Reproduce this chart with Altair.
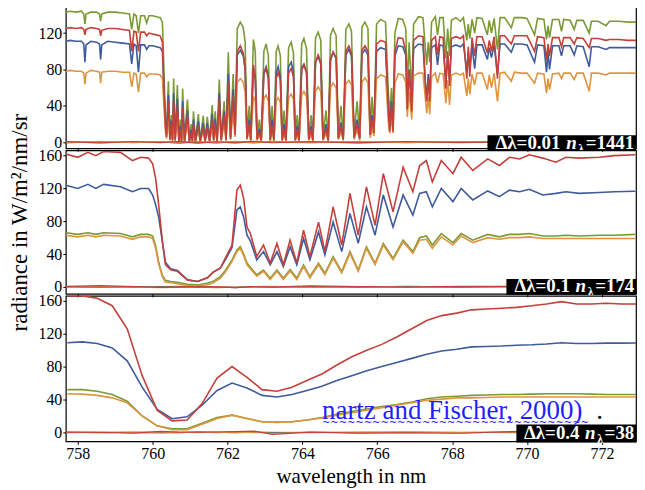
import altair as alt
import pandas as pd

# ---------------- panel 1 : d_lambda = 0.01 ----------------
lam1 = [757.68, 757.80, 757.95, 758.10, 758.16, 758.19, 758.22, 758.35, 758.50, 758.58,
        758.61, 758.64, 758.80, 759.00, 759.20, 759.38, 759.44, 759.50, 759.56, 759.62,
        759.68, 759.78, 759.84, 759.90, 760.00, 760.10, 760.20, 760.26,
        760.30, 760.34, 760.37, 760.42, 760.46, 760.50, 760.53, 760.56, 760.60, 760.66,
        760.70, 760.74, 760.77, 760.80, 760.85, 760.93, 760.98, 761.03, 761.06, 761.09,
        761.14, 761.22, 761.27, 761.35, 761.40, 761.46, 761.52, 761.59, 761.63, 761.67,
        761.72, 761.78, 761.83, 761.91, 761.96, 762.02, 762.08, 762.15, 762.20,
        762.26, 762.34, 762.42, 762.47, 762.52, 762.58, 762.62, 762.69, 762.74, 762.79,
        762.85, 762.90, 762.97, 763.03, 763.09, 763.14, 763.19, 763.24, 763.30, 763.35,
        763.41, 763.46, 763.51, 763.56, 763.63, 763.70, 763.76, 763.81, 763.86, 763.91,
        763.98, 764.04, 764.11, 764.17, 764.23, 764.28, 764.35, 764.42, 764.49, 764.55,
        764.63, 764.69, 764.75, 764.82, 764.90, 764.96, 765.03, 765.09, 765.16, 765.24,
        765.31, 765.38, 765.46, 765.53, 765.59, 765.67, 765.75, 765.81, 765.86, 765.91,
        765.98, 766.09, 766.22,
        766.30, 766.33, 766.38, 766.42, 766.47, 766.56, 766.68, 766.76, 766.80, 766.85,
        766.92, 766.97, 767.10, 767.22, 767.29, 767.32, 767.36, 767.40, 767.45, 767.55,
        767.61, 767.67, 767.76, 767.83, 767.88, 767.93, 767.98, 768.10, 768.22, 768.30,
        768.39, 768.43, 768.47, 768.53, 768.60, 768.66, 768.80, 768.94, 768.99, 769.05,
        769.12, 769.21, 769.28, 769.40, 769.58, 769.66, 769.85, 770.00, 770.20, 770.28,
        770.45, 770.52, 770.56, 770.60, 770.68, 770.85, 770.92, 770.98, 771.15, 771.26,
        771.33, 771.50, 771.66, 771.72, 771.90, 772.11, 772.20, 772.45, 772.70, 772.91]

green1 = [143, 144, 143, 144, 141, 130, 141, 143, 143, 141, 133, 141, 143, 143, 142, 141, 124, 141, 139, 120,
          139, 139, 131, 139, 139, 138, 137, 132,
          80, 25, 10, 67, 6, 30, 4, 70, 5, 63, 3, 25, 3, 59, 3, 47, 2, 20, 3, 34,
          2, 31, 2, 29, 3, 28, 3, 41, 5, 34, 3, 69, 4, 45, 5, 99, 8, 75, 15,
          125, 132, 126, 110, 8, 40, 5, 113, 100, 6, 25, 4, 100, 108, 95, 5, 40, 4, 100, 106,
          95, 5, 35, 4, 104, 110, 98, 5, 30, 4, 108, 114, 103, 6, 30, 5, 115, 121, 112, 6,
          35, 5, 118, 125, 117, 7, 40, 6, 124, 130, 122, 8, 45, 7, 127, 132, 125, 10, 50, 15,
          130, 135, 132,
          50, 30, 60, 25, 120, 136, 135, 125, 60, 110, 55, 130, 138, 137, 100, 85, 110, 88, 132, 138,
          118, 137, 137, 92, 125, 95, 134, 137, 133, 137, 112, 130, 114, 135, 120, 137, 136, 118, 134, 120,
          136, 102, 137, 137, 126, 137, 137, 136, 118, 136, 135, 113, 128, 115, 135, 135, 122, 135, 134, 124,
          134, 134, 120, 133, 133, 128, 133, 133, 132, 132]

red1 = [125, 126, 125, 126, 124, 118, 124, 126, 125, 124, 117, 123, 125, 125, 124, 123, 100, 122, 121, 100,
        121, 121, 117, 120, 119, 118, 117, 110,
        60, 18, 6, 46, 3, 20, 2, 45, 2, 40, 1, 14, 1, 38, 1, 30, 1, 10, 1, 20,
        1, 18, 1, 17, 1, 17, 1, 26, 2, 21, 1, 48, 2, 30, 2, 67, 4, 52, 8,
        100, 106, 98, 80, 4, 20, 2, 85, 70, 3, 12, 2, 75, 81, 70, 2, 18, 2, 70, 77,
        68, 2, 15, 2, 76, 81, 72, 2, 14, 2, 80, 85, 76, 3, 14, 2, 88, 96, 88, 3,
        15, 2, 92, 99, 93, 4, 18, 3, 100, 106, 98, 5, 20, 4, 101, 106, 100, 8, 25, 10,
        108, 112, 110,
        30, 12, 40, 12, 100, 115, 114, 100, 36, 80, 34, 112, 117, 116, 60, 45, 70, 45, 112, 116,
        96, 116, 115, 59, 100, 62, 114, 116, 114, 117, 70, 105, 72, 115, 95, 116, 116, 98, 112, 100,
        116, 70, 117, 117, 108, 117, 117, 117, 100, 116, 115, 90, 108, 95, 115, 115, 105, 115, 115, 108,
        115, 114, 104, 114, 114, 112, 113, 113, 112, 112]

blue1 = [111, 112, 111, 111, 108, 88, 107, 111, 110, 108, 91, 107, 111, 110, 109, 108, 86, 108, 106, 77,
         107, 107, 102, 106, 106, 105, 104, 100,
         60, 22, 8, 52, 4, 24, 3, 54, 3, 48, 2, 18, 2, 45, 2, 35, 1, 14, 2, 25,
         1, 23, 1, 21, 2, 21, 2, 31, 3, 26, 2, 54, 3, 34, 3, 75, 6, 58, 10,
         96, 101, 95, 80, 5, 25, 3, 81, 70, 4, 15, 3, 76, 83, 72, 3, 25, 3, 76, 83,
         72, 3, 20, 3, 83, 88, 78, 3, 18, 3, 82, 86, 77, 4, 18, 3, 88, 94, 86, 4,
         20, 3, 90, 99, 92, 5, 22, 4, 96, 102, 95, 6, 25, 5, 97, 102, 96, 8, 30, 10,
         100, 104, 102,
         35, 18, 45, 15, 95, 106, 105, 96, 40, 80, 38, 103, 108, 107, 60, 50, 75, 50, 104, 107,
         85, 107, 106, 66, 95, 68, 105, 107, 105, 108, 78, 100, 80, 106, 81, 107, 107, 91, 104, 93,
         107, 75, 108, 108, 99, 108, 108, 107, 88, 107, 106, 77, 100, 80, 106, 106, 95, 106, 106, 96,
         106, 105, 83, 105, 105, 102, 104, 104, 104, 104]

orange1 = [78, 79, 78, 78, 76, 64, 76, 79, 78, 77, 65, 77, 78, 78, 77, 77, 61, 76, 75, 55,
           76, 76, 72, 75, 75, 75, 74, 70,
           40, 12, 4, 32, 2, 14, 1, 33, 2, 28, 1, 10, 1, 26, 1, 20, 1, 8, 1, 14,
           1, 13, 1, 12, 1, 12, 1, 18, 2, 15, 1, 32, 2, 20, 2, 45, 3, 35, 6,
           66, 70, 66, 55, 3, 15, 2, 51, 45, 2, 8, 1, 48, 52, 45, 2, 12, 1, 45, 49,
           44, 2, 10, 1, 49, 53, 47, 2, 9, 1, 52, 56, 50, 2, 9, 1, 56, 61, 56, 2,
           10, 1, 60, 65, 60, 3, 12, 2, 64, 68, 63, 3, 14, 2, 66, 71, 65, 5, 15, 7,
           70, 74, 72,
           20, 10, 28, 10, 65, 75, 74, 66, 28, 55, 25, 73, 76, 76, 45, 32, 50, 31, 72, 76,
           65, 76, 75, 43, 68, 41, 74, 76, 74, 76, 51, 70, 53, 75, 63, 76, 76, 58, 74, 60,
           76, 45, 76, 77, 67, 77, 76, 76, 65, 76, 75, 54, 70, 58, 75, 76, 70, 76, 76, 69,
           76, 76, 56, 76, 76, 74, 76, 76, 76, 76]

# ---------------- panel 2 : d_lambda = 0.1 ----------------
lam2 = [757.68, 758.00, 758.27, 758.48, 758.69, 759.14, 759.46, 759.68, 759.89, 760.00,
        760.08, 760.16, 760.26, 760.34, 760.48, 760.66, 760.93, 761.20, 761.46, 761.62,
        761.81, 761.94, 762.12, 762.25, 762.34, 762.43, 762.52, 762.61, 762.78, 762.96,
        763.14, 763.32, 763.49, 763.67, 763.85, 764.03, 764.20, 764.43, 764.60, 764.82,
        765.05, 765.27, 765.49, 765.71, 765.94, 766.16, 766.42, 766.69, 766.95, 767.13,
        767.31, 767.47, 767.71, 768.02, 768.24, 768.55, 768.95, 769.26, 769.53, 769.80,
        770.06, 770.42, 770.77, 771.04, 771.39, 771.93, 772.33, 772.89]
red2 = [162, 158, 164, 160, 165, 164, 154, 158, 157, 150,
        132, 100, 55, 27, 21, 19, 8.5, 6.5, 11, 18,
        23, 35, 51, 118, 124, 108, 73, 65, 37, 51,
        29, 53, 27, 57, 29, 69, 37, 79, 43, 97.6,
        51, 114, 63, 122, 75, 138, 91.5, 146, 116, 148,
        154, 128, 154, 138, 158, 142, 156, 148, 158, 156,
        161, 157, 152, 158, 157, 158, 160, 161]
blue2 = [124, 120, 125, 120, 125, 122, 116, 120, 120, 112,
         100, 85, 55, 30, 22, 20, 8.5, 6.5, 11, 18,
         23, 33, 48, 94, 97.6, 85, 63, 56, 33, 43,
         27, 43, 24.7, 49, 27, 59, 33, 67, 39, 79,
         43, 89.5, 53, 97.6, 63, 112, 73, 112, 87.5, 114,
         116, 97.6, 120, 104, 120, 106, 117, 110, 118, 116,
         119, 112, 114, 116, 114, 115, 116, 116.6]
green2 = [66, 64, 66, 64, 66, 65, 61, 64, 64, 62,
          50, 30, 14, 8, 6.5, 5.5, 3.2, 2.4, 4.5, 7,
          12.6, 20, 33, 45, 49, 40, 29, 24, 14.6, 20.6,
          10.6, 20.6, 10.6, 21, 10.6, 26.7, 12.6, 28.8, 16.6, 36.8,
          18.6, 43, 20.6, 49, 28.8, 53, 34.8, 57, 43, 60,
          62, 51, 65, 54, 65, 57, 64, 61, 64, 64,
          65, 62, 62, 63, 62, 63, 63, 64]
orange2 = [63, 61, 63, 61, 63, 62, 58, 61, 61, 59,
           47, 28, 12, 6, 5, 4, 1.5, 1, 2.5, 5,
           10.5, 18, 31, 43, 47, 38, 27, 22, 13, 19,
           9, 19, 9, 19.5, 9, 25, 11, 27, 15, 35,
           17, 41, 19, 47, 27, 51, 33, 55, 41, 57,
           58, 47, 61, 51, 62, 54, 60, 58, 60, 60,
           61, 59, 59, 59, 59, 59, 59, 59]

# ---------------- panel 3 : d_lambda = 0.4 ----------------
lam3 = [757.72, 758.12, 758.52, 758.92, 759.32, 759.72, 760.12, 760.52, 760.92, 761.32,
        761.72, 762.12, 762.52, 762.92, 763.32, 763.72, 764.12, 764.52, 764.92, 765.32,
        765.72, 766.12, 766.52, 766.92, 767.32, 767.72, 768.12, 768.52, 768.92, 769.32,
        769.72, 770.12, 770.52, 770.92, 771.32, 771.72, 772.12, 772.52, 772.92]
red3 = [166, 166, 163, 154, 126, 69, 27, 14, 15, 35, 66, 80, 67, 52, 50, 55, 63, 71, 82, 92,
        100, 107, 116, 126, 136, 142, 145, 149, 150, 151, 152, 154, 156, 159, 156, 156, 157, 156, 156]
blue3 = [109, 110, 108, 102.6, 87, 55, 28, 16.6, 19, 33, 51, 60, 54, 45, 43, 46, 51, 56, 63, 69,
         75, 80, 85, 90, 95, 99, 101, 104, 104.5, 105, 106, 106.5, 107.5, 109, 108, 108, 108.5, 108.5, 108.7]
green3 = [52, 52, 50, 46, 38, 20, 8, 4.4, 4.4, 11, 18, 21, 17, 13, 12.5, 13, 15, 18, 22, 25.5,
          28.5, 31.5, 34, 37, 41, 43, 44, 45, 45.5, 46, 46, 46.5, 47, 47, 47, 46.5, 46, 46, 46]
orange3 = [47, 46.5, 45, 42, 36, 20, 8, 3.2, 3.2, 10, 17, 21, 17, 13, 12, 13, 15, 17.5, 21, 24,
           27, 30, 33, 36, 39, 40.5, 42, 42, 42.5, 43, 43, 43, 43, 43, 43, 43, 43, 43, 43]

# ---------------- near-zero difference curves ----------------
lamz = [757.7, 758.6, 759.5, 760.2, 760.7, 761.2, 761.7, 762.2, 762.7, 763.2,
        764.2, 765.5, 766.8, 768.2, 769.6, 771.2, 772.9]
zred1 = [0.8, -0.6, 0.9, -0.4, 0.7, -0.9, 0.6, -0.7, 1.0, -0.5, 0.8, -0.6, 0.9, -0.4, 0.7, -0.5, 0.6]
zgreen1 = [-0.6, 0.9, -0.5, 0.7, -1.1, 0.8, -0.9, 1.0, -0.6, 1.1, -0.5, 0.7, -0.4, 0.9, -0.7, 0.6, -0.3]
zblue1 = [0.2, -0.3, 0.3, -0.2, 0.4, -0.3, 0.2, -0.4, 0.3, -0.2, 0.3, -0.3, 0.2, -0.2, 0.3, -0.2, 0.2]
zorange1 = [-0.2, 0.3, -0.2, 0.2, -0.3, 0.4, -0.2, 0.3, -0.4, 0.2, -0.3, 0.2, -0.2, 0.3, -0.2, 0.2, -0.1]
zred2 = [0.5, 1.5, 0.2, -0.5, -0.2, 0.3, 0.1, -0.8, 0.4, -0.3, 1.2, 0.2, -0.4, 0.5, 0.6, 0.3, 0.2]
zgreen2 = [-0.4, 0.3, -0.6, 0.2, 0.5, -0.3, -0.8, -0.2, 0.4, 0.6, -0.5, 0.3, 0.4, -0.3, 0.2, -0.4, 0.3]
zblue2 = [0.2, -0.5, 0.3, -0.2, -0.4, -0.6, 0.2, -0.9, 0.3, -0.2, 0.4, -0.3, 0.6, -0.2, 0.3, -0.2, 0.1]
zorange2 = [-0.3, 0.2, -0.4, -0.8, -0.6, -0.3, 0.4, -0.2, -0.5, 0.2, -0.3, 0.2, -0.4, 0.3, -0.2, 0.2, -0.3]
zred3 = [0.3, 0.0, -0.8, 1.2, 0.3, 0.2, 0.5, 0.9, 1.5, -2.4, 0.3, -0.8, -0.5, -1.0, 1.0, 2.0, 0.5]
zgreen3 = [0.2, -0.3, 0.4, -0.2, 0.1, 0.3, -0.2, 0.6, -0.3, 0.2, -0.4, 0.3, -0.2, 0.2, -0.3, 0.2, 0.1]
zblue3 = [-0.2, 0.2, -0.3, 0.1, -0.2, 0.3, 0.2, -0.4, 0.5, -0.3, 0.2, -0.2, 0.3, -0.2, 0.2, -0.1, 0.2]
zorange3 = [0.1, -0.2, 0.2, -0.4, 0.2, -0.2, 0.3, -0.3, 0.2, -1.0, 0.2, -0.3, 0.2, -0.2, 0.3, -0.2, 0.1]

x_ticks = [758, 760, 762, 764, 766, 768, 770, 772]
y_ticks1 = [0, 40, 80, 120]
y_ticks23 = [0, 40, 80, 120, 160]

# ---------------- styling / layout ----------------
SERIF = "Liberation Serif, Times New Roman, serif"
COL = {"green": "#7b9a35", "blue": "#3f5b9c", "orange": "#df953f", "red": "#c4403a"}
XDOM = [757.68, 772.91]
W = 572
H1, H2, H3 = 143, 144, 146


def x_axis(bottom):
    if bottom:
        return alt.Axis(values=x_ticks, format="d", labelFont=SERIF, labelFontSize=16,
                        labelColor="black", tickColor="black", tickSize=3, labelPadding=1,
                        domain=False, grid=False, title="wavelength in nm", titleFont=SERIF,
                        titleFontSize=21, titleFontWeight="normal", titleColor="black",
                        titlePadding=4)
    return alt.Axis(values=x_ticks, labels=False, tickColor="black", tickSize=3,
                    domain=False, grid=False, title=None)


def y_axis(ticks, title=None):
    kw = dict(values=ticks, labelFont=SERIF, labelFontSize=16, labelColor="black",
              tickColor="black", tickSize=3, labelPadding=1, domain=False, grid=False)
    if title:
        return alt.Axis(title=title, titleFont=SERIF, titleFontSize=23,
                        titleFontWeight="normal", titleColor="black", titlePadding=6, **kw)
    return alt.Axis(title=None, **kw)


def series_layer(lam, vals, color, xax, yax, ydom, sw=1.6):
    df = pd.DataFrame({"lam": lam, "v": vals})
    return alt.Chart(df).mark_line(color=color, strokeWidth=sw, clip=True).encode(
        x=alt.X("lam:Q", scale=alt.Scale(domain=XDOM, nice=False, zero=False), axis=xax),
        y=alt.Y("v:Q", scale=alt.Scale(domain=ydom, nice=False, zero=False), axis=yax),
    )


one = pd.DataFrame({"a": [0]})


def rect(x1, x2, y1, y2, color="black"):
    return alt.Chart(one).mark_rect(color=color).encode(
        x=alt.value(x1), x2=alt.value(x2), y=alt.value(y1), y2=alt.value(y2))


def txt(s, x, y, size, color="white", weight="bold", style="normal", font=SERIF):
    return alt.Chart(one).mark_text(text=s, align="left", baseline="alphabetic", font=font,
                                    fontSize=size, fontWeight=weight, fontStyle=style,
                                    color=color).encode(x=alt.value(x), y=alt.value(y))


def badge(x1, y1, y2, xa, xb, xc, xd, a, d, base):
    return [rect(x1, W, y1, y2),
            txt(a, xa, base, 19),
            txt("n", xb, base, 19, style="italic"),
            txt("λ", xc, base + 4, 12),
            txt(d, xd, base, 19)]


def panel(lam, G, B, O, R, zG, zB, zO, zR, ydom, yticks, h, bottom, ytitle, extras):
    xax = x_axis(bottom)
    yax = y_axis(yticks, ytitle)
    layers = [
        series_layer(lamz, zG, COL["green"], xax, yax, ydom, 1.2),
        series_layer(lamz, zB, COL["blue"], xax, yax, ydom, 1.2),
        series_layer(lamz, zO, COL["orange"], xax, yax, ydom, 1.2),
        series_layer(lam, G, COL["green"], xax, yax, ydom),
        series_layer(lam, B, COL["blue"], xax, yax, ydom),
        series_layer(lam, O, COL["orange"], xax, yax, ydom),
        series_layer(lam, R, COL["red"], xax, yax, ydom),
        series_layer(lamz, zR, COL["red"], xax, yax, ydom, 1.2),
    ]
    layers += extras
    return alt.layer(*layers).properties(width=W, height=h)


p1 = panel(lam1, green1, blue1, orange1, red1, zgreen1, zblue1, zorange1, zred1,
           [-6.6, 150], y_ticks1, H1, False, None,
           badge(423, 130, 145, 431, 502, 514, 521.5, "Δλ=0.01", "=1441", 143.5))
p2 = panel(lam2, green2, blue2, orange2, red2, zgreen2, zblue2, zorange2, zred2,
           [-8.5, 166.5], y_ticks23, H2, False, "radiance in W/m²/nm/sr",
           badge(442, 129, 145, 450, 511.4, 523.5, 531, "Δλ=0.1", "=174", 142.5))
p3_extra = badge(452, 129, 147, 459.6, 520.9, 533, 540.5, "Δλ=0.4", "=38", 143.5) + [
    txt("nartz and Fischer, 2000)", 257, 124, 27, color="#1f1fff", weight="normal"),
    txt(".", 532, 124, 27, color="black", weight="normal"),
    txt("~" * 32, 257, 131, 10, color="#1f1fff", weight="normal", font="DejaVu Sans"),
]
p3 = panel(lam3, green3, blue3, orange3, red3, zgreen3, zblue3, zorange3, zred3,
           [-10.9, 166], y_ticks23, H3, True, None, p3_extra)

chart = alt.vconcat(p1, p2, p3, spacing=2, bounds="flush").properties(
    padding={"left": 0, "top": -4, "right": 0, "bottom": 0}
).configure_view(stroke="black", strokeWidth=1.2)

chart.save("out.html", embed_options={"renderer": "svg", "actions": False})
